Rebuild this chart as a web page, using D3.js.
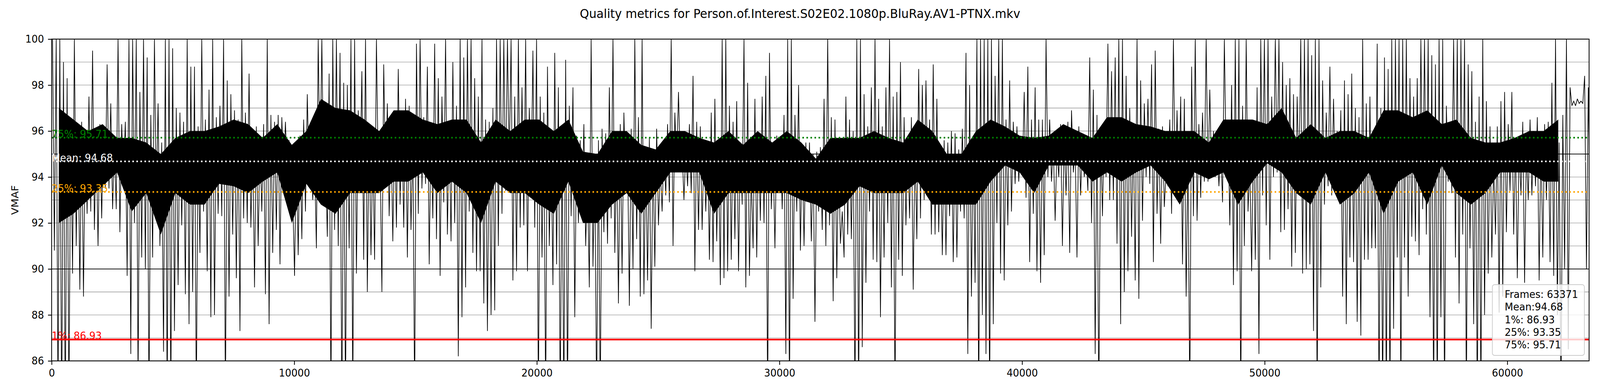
<!DOCTYPE html>
<html><head><meta charset="utf-8">
<script src="https://cdn.jsdelivr.net/npm/d3@7/dist/d3.min.js"></script>
<style>html,body{margin:0;padding:0;background:#fff;width:100%;height:100%;overflow:hidden;} svg{display:block;width:100vw;height:100vh;font-family:"DejaVu Sans",sans-serif;}</style>
</head><body><svg id="chart" viewBox="0 0 4400 1000" preserveAspectRatio="none"></svg>
<script>
// ---------------- data ----------------
const titleText = "Quality metrics for Person.of.Interest.S02E02.1080p.BluRay.AV1-PTNX.mkv";
const yLabelText = "VMAF";
const frameCount = 63371;
const binSize = 150;      // frames per bin of the high / low trace readings
const coreBinSize = 600;  // frames per bin of the dense band readings
const xTicks = [0, 10000, 20000, 30000, 40000, 50000, 60000];
const yTicks = [86, 88, 90, 92, 94, 96, 98, 100];
const yGridValues = [86, 87, 88, 89, 90, 91, 92, 93, 94, 95, 96, 97, 98, 99, 100];
const refLineValues = [90, 95];
const statNames = ["75%", "Mean", "25%", "1%"];
const statValues = [95.71, 94.68, 93.35, 86.93];

// per-bin high values of VMAF
const vmafHigh = [
 100,100,100,99,98.3,96.5,100,96.3,96.4,96, 97.5,99.5,95.7,96.3,96.2,98.9,97.2,95.4,100,96.3,
 96.4,100,100,100,97.7,100,99.2,96.7,100,97.2, 95.5,100,100,99.6,97,96.8,96.4,100,98.8,98.8,
 96.2,100,96.5,97.8,100,96.6,97.1,100,98.2,97.6, 96.9,96.5,100,96.8,98.5,95.6,96.2,95.6,96.3,100,
 96.7,96.4,96.7,96.6,96.4,95.6,93.2,95.3,95.8,96.5, 97.6,95.4,94.8,100,100,95,98.5,100,100,99.4,
 98.1,98,100,100,96.9,98.6,100,96.3,95.3,100, 95,98.9,97.2,96.2,96.2,98.7,96.5,97.4,97.1,95.8,
 99.8,100,96.6,98.8,96.1,99.8,98.3,97.5,100,96.2, 99,97.1,100,99.2,100,100,98.3,97.5,100,96.5,96.4,
 97,100,100,100,100,100,97.5,100,97.9,100, 97,99.5,100,97.5,96.8,98.8,95.5,99.4,97.9,95.4,
 99.1,97.1,97.9,95.8,95.6,96.3,94,100,94.8,95.6, 96.1,95.9,97.9,100,95.4,96.3,96.8,95.3,96.1,100,
 96.6,100,95.1,95.7,95.2,96.1,94.5,95.3,96.3,100, 96.8,97.7,95.2,95.1,96.3,98.4,96.4,96.2,95.4,95.3,
 96.8,97.4,95,100,100,97.1,96.4,97.3,95.4,100, 98.1,94.2,97.4,95.6,97.5,98.4,99.4,95.1,95.8,95.7,
 96.7,100,100,96.7,98,95.4,95.5,95.5,95,95.1, 95.3,97.4,100,96.6,96.5,95,92.5,97.5,96.5,96,
 100,100,97.6,96.2,97.9,100,97.4,96.2,97.9,100, 97.5,97.7,99,96.6,95.6,96.6,95.4,98.7,98,98.2,96.5,
 98.9,97.4,95.2,95.6,95.5,96,95.9,95.2,96.1,99.4, 98,95.8,100,100,100,100,100,98.4,100,100,
 96.5,98.2,96.4,96.2,95.5,97.7,98.8,96.5,97.9,96.5, 96.5,100,96.5,95.4,95.3,96.3,95.9,96.4,96.9,95.3,
 96.2,95.5,95,99.2,97.8,96.7,96,96.4,99.8,98.6, 99.2,100,100,98.4,97,96.2,100,98.2,97.2,97.4,
 98.9,99.5,96.1,96.2,94.2,96.5,100,96.9,97.5,97.4, 95.3,98.8,100,96.3,96.8,100,97.8,96,95.7,95.3,
 100,96.3,98,100,100,97.1,100,94.5,96.3,97.9, 100,100,100,97.5,100,100,99,98,98.3,97.6,
 97.5,100,100,100,99.3,100,100,98.2,96.8,98.8, 97.4,96,96.9,98.2,97.6,98.5,97,96.6,100,97.2,97.5,
 95.6,99.8,97,99.2,98.7,100,100,100,100,100, 98.3,97.5,98.3,100,100,100,99.3,98.9,100,100,
 97.1,96.3,100,100,100,100,98.9,98.6,96.4,97.5, 100,97.3,96.2,94.6,96.2,97.3,97.7,96.3,97.7,95.7,
 95.6,96.4,95.3,96.5,96,96.6,95.9,96.3,96.4,98.1, 100,95.5,96.7,100,97.9,97.3,97.4,97.3,98.4,97.9
];
// per-bin low values of VMAF (values under 86 run off the bottom of the plot)
const vmafLow = [
 90.8,84,83,83,84,89.8,91,89.1,88.8,92.4, 92.5,91.7,91,92.2,93.5,93.5,92.6,92.6,91.6,94,
 89.7,86.3,92,85,90.5,90,84,90.5,93,91, 86.4,84,84,87.3,89.3,91.9,88.9,87.6,89,84,
 90.7,92.5,89.9,87.9,88,92.4,92.3,84,88.8,91.5, 89.6,87.3,92.2,92,91.8,89.2,91,92.5,88.9,87.6,
 90.7,91.7,90.2,94.2,94,92.5,89.7,90.6,91.3,92.5, 94,93,90.9,94,93.5,91.4,84,91.7,91,83,
 84,90.9,84,89.8,93.9,90.4,89,90.6,90.4,94, 89,93.9,92.3,91.2,91.8,92.8,91.8,90.5,91.7,84,
 92.4,93.5,93.7,90.2,92.2,91.3,89.7,92.9,91.5,91.2, 92,86.2,87.9,89.2,92.5,90.7,89.9,89.9,88.5,87.3,88,
 88.2,91,92.4,93.4,94.5,89.5,89.9,91.8,91.9,89.9, 93.3,91.8,84,90.5,84,91,89.3,90.2,84,84,
 84,92.3,87.9,92,92.3,91,89.2,90.1,84,84, 91.6,91.1,92.2,90.7,88.5,89.8,93.4,88.4,90,91.3,
 88.8,88.9,89.5,87.4,90.1,91.9,92.5,93.2,92.9,91, 94.5,94.6,93,93.6,93.3,89.9,91.7,91.7,92.5,90.4,
 90.3,91.2,89.3,89.6,89.9,90.4,91.3,89.9,92.8,89.2, 89.7,90.9,90.5,92.1,92,84,92.6,90.9,93.4,92.6,
 86.3,84,88.7,92.5,90.8,91,93,91.2,87.7,92.5, 91.7,91,91.9,88.6,89.6,91.1,90.5,91.5,91.3,84,
 84,86.6,89.4,92.5,90.4,90.3,87.9,90.5,92,89.2, 84,90.4,89.7,91.9,92.2,89.1,91.3,92.2,93,93.8,91.5,
 91.5,91.6,90.6,90.6,92.3,90.3,90.5,92.5,92.2,86.3, 88.8,89.4,84,88,86.3,84,87.6,92,89.8,89.5,
 91.9,92.5,93.7,93.8,94.2,93.1,90.3,92.4,89.9,89.4, 90.6,94,93.8,92.1,94,91,93.2,90.7,94.2,90.5,
 93.2,94,93.4,92,86.3,84,92.3,94,93,93, 91.1,87.6,89,89.9,91.4,89.5,88.7,92.1,94,93.7,
 90.3,92.4,91.1,92.7,93.6,92.4,93.2,93.1,90.2,88.8, 84,92.3,92.1,93.1,93.8,93.8,94,94,93.6,92.9,
 94.5,91.9,89.3,89.9,84,91,92.5,89.9,90.4,86.3, 93.2,91.9,90.4,94,94.2,91.6,91.7,92.6,90.1,90.7,
 93.9,89.8,90,90.2,87.3,84,89.2,92.8,93.6,93.2, 93.7,93,88.8,87.6,90.5,90.3,87.7,87.1,90.4,90.4,90.9,
 90.9,84,84,84,84,87.4,90.5,84,90.5,88.8, 91.4,91.2,90.6,92.6,91.5,87.9,84,84,87.9,84,
 93.8,93.3,90.5,88.5,91.5,84,90.9,87.6,84,84, 88,89.8,90.5,91.5,88.1,88.8,91.6,93.4,91.5,89.6,
 93.2,89.4,93,93.2,93.6,89.5,90.5,93,90.3,89.7, 88,84,90,86.5,97.1,97.1,97.2,97.2,90,95.4
];
// dense (solid black) band of the trace, upper edge, per 600-frame bin (null: no dense band)
const coreHigh = [
 97,96.5,96,96.3,95.7,95.7,95.5,95,95.7,96, 96,96.2,96.5,96.3,95.7,
 96.3,95.4,96,97.4,97,96.9,96.5,96,96.9,96.9, 96.5,96.3,96.5,96.5,95.5,
 96.5,96,96.5,96.5,96,96.5,95.1,95,96,96, 95.4,95.2,96,96,95.7,
 95.5,96,95.4,96,95.5,96,95.5,94.8,95.7,95.7, 95.7,96,95.7,95.5,96.5,
 96,95,95,96,96.5,96.2,95.8,95.7,95.8,96.3, 96,95.7,96.6,96.6,96.3,
 96.2,96,96,96,95.5,96.5,96.5,96.5,96.3,97, 95.7,96.3,95.7,96,96,
 95.7,96.9,96.9,96.6,96.9,96.3,96.5,95.7,95.5,95.5, 95.7,96,96,96.5,null,null
];
// dense band of the trace, lower edge, per 600-frame bin
const coreLow = [
 92,92.4,93,93.6,94.2,92.5,93.3,91.5,93.3,92.8, 92.8,93.7,93.6,93.3,93.8,
 94.2,92,93.7,92.8,92.4,93.3,93.3,93.3,93.8,93.8, 94.2,93.3,93.8,93.3,92,
 93.8,93.3,93.3,92.8,92.4,93.8,92,92,92.8,93.3, 92.4,93.3,94.2,94.2,94.2,
 92.4,93.3,93.3,93.3,93.3,93.3,93,92.8,92.4,92.8, 93.6,93.3,93.3,93.3,93.8,
 92.8,92.8,92.8,92.8,93.8,94.5,94.2,93.3,94.5,94.5, 94.5,93.8,94.2,93.8,94.2,
 94.5,93.8,92.8,94.2,93.9,94.2,92.8,93.8,94.6,94.2, 93.3,92.8,94.2,92.8,93.3,
 94.2,92.4,93.8,94.2,92.8,94.5,93.3,92.8,93.3,94.2, 94.2,94.2,93.8,93.8,null,null
];

// ---------------- styles / layout ----------------
const W = 4400, H = 1000;
const M = {left: 142, right: 4370, top: 100, bottom: 923};
const FONT = "'DejaVu Sans', sans-serif";
const statStyle = {
  "75%":  {color: "#008000", dash: "4.2 6.9"},
  "Mean": {color: "#ffffff", dash: "4.2 6.9"},
  "25%":  {color: "#ffa500", dash: "4.2 6.9"},
  "1%":   {color: "#ff0000", dash: null}
};

const svg = d3.select("#chart");
svg.append("rect").attr("width", W).attr("height", H).attr("fill", "#fff");

const x = d3.scaleLinear().domain([0, frameCount]).range([M.left, M.right]);
const y = d3.scaleLinear().domain([86, 100]).range([M.bottom, M.top]);

svg.append("defs").append("clipPath").attr("id", "plotClip")
  .append("rect").attr("x", M.left).attr("y", M.top)
  .attr("width", M.right - M.left).attr("height", M.bottom - M.top);

// grid
svg.append("g").selectAll("line").data(yGridValues).join("line")
  .attr("x1", M.left).attr("x2", M.right)
  .attr("y1", d => y(d)).attr("y2", d => y(d))
  .attr("stroke", "#808080").attr("stroke-width", 1.1);

// reference lines at 90 / 95
svg.append("g").selectAll("line").data(refLineValues).join("line")
  .attr("x1", M.left).attr("x2", M.right)
  .attr("y1", d => y(d)).attr("y2", d => y(d))
  .attr("stroke", "#000").attr("stroke-width", 1.8);

const plot = svg.append("g").attr("clip-path", "url(#plotClip)");

// dense band of the trace
const coreN = Math.min(coreHigh.length, coreLow.length);
const corePts = d3.range(coreN).map(k => ({
  f: Math.min(k * coreBinSize + coreBinSize / 2, frameCount), hi: coreHigh[k], lo: coreLow[k]
}));
plot.append("path").datum(corePts)
  .attr("d", d3.area().defined(d => d.hi != null && d.lo != null)
    .x(d => x(d.f)).y0(d => y(d.lo)).y1(d => y(d.hi)))
  .attr("fill", "#000");

// data trace (high/low per bin)
const pts = [];
const nBins = Math.min(vmafHigh.length, vmafLow.length);
for (let k = 0; k < nBins; k++) {
  pts.push([Math.min(k * binSize + binSize * 0.25, frameCount), vmafHigh[k]]);
  pts.push([Math.min(k * binSize + binSize * 0.75, frameCount), vmafLow[k]]);
}
const line = d3.line().x(d => x(d[0])).y(d => y(d[1]));
plot.append("path").datum(pts)
  .attr("d", line).attr("fill", "none")
  .attr("stroke", "#000").attr("stroke-width", 1.8)
  .attr("stroke-linejoin", "miter").attr("stroke-miterlimit", 3);

// stat lines
const statG = svg.append("g");
statNames.forEach((name, i) => {
  const v = statValues[i], st = statStyle[name];
  const l = statG.append("line")
    .attr("x1", M.left).attr("x2", M.right)
    .attr("y1", y(v)).attr("y2", y(v))
    .attr("stroke", st.color).attr("stroke-width", 4.2);
  if (st.dash) l.attr("stroke-dasharray", st.dash);
});
statNames.forEach((name, i) => {
  const v = statValues[i], st = statStyle[name];
  statG.append("text")
    .attr("x", x(0)).attr("y", y(v))
    .attr("font-family", FONT).attr("font-size", 27)
    .attr("fill", st.color)
    .text(name + ": " + v.toFixed(2));
});

// spines
svg.append("rect").attr("x", M.left).attr("y", M.top)
  .attr("width", M.right - M.left).attr("height", M.bottom - M.top)
  .attr("fill", "none").attr("stroke", "#000").attr("stroke-width", 2.2);

// axes
const xAxis = svg.append("g").attr("transform", `translate(0,${M.bottom})`)
  .call(d3.axisBottom(x).tickValues(xTicks).tickSize(10).tickPadding(11).tickFormat(d3.format("d")));
const yAxis = svg.append("g").attr("transform", `translate(${M.left},0)`)
  .call(d3.axisLeft(y).tickValues(yTicks).tickSize(10).tickPadding(11).tickFormat(d3.format("d")));
[xAxis, yAxis].forEach(g => {
  g.select(".domain").remove();
  g.attr("font-family", FONT).attr("font-size", 27);
  g.selectAll(".tick line").attr("stroke", "#000").attr("stroke-width", 2.2);
  g.selectAll(".tick text").attr("fill", "#000");
});

// y label
svg.append("text")
  .attr("transform", `translate(51,${(M.top + M.bottom) / 2}) rotate(-90)`)
  .attr("text-anchor", "middle").attr("font-family", FONT).attr("font-size", 27)
  .text(yLabelText);

// title
svg.append("text").attr("x", W / 2).attr("y", 46)
  .attr("text-anchor", "middle").attr("font-family", FONT).attr("font-size", 32.4)
  .text(titleText);

// legend box
const legendLines = [
  "Frames: " + frameCount,
  "Mean:" + statValues[statNames.indexOf("Mean")].toFixed(2),
  "1%: " + statValues[statNames.indexOf("1%")].toFixed(2),
  "25%: " + statValues[statNames.indexOf("25%")].toFixed(2),
  "75%: " + statValues[statNames.indexOf("75%")].toFixed(2)
];
const lg = svg.append("g");
lg.append("rect").attr("x", 4104).attr("y", 728).attr("width", 253).attr("height", 181)
  .attr("rx", 6).attr("fill", "#fff").attr("fill-opacity", 0.8)
  .attr("stroke", "#cccccc").attr("stroke-width", 2);
lg.selectAll("text").data(legendLines).join("text")
  .attr("x", 4138).attr("y", (d, i) => 762 + i * 32.3)
  .attr("font-family", FONT).attr("font-size", 27).attr("fill", "#000")
  .text(d => d);
</script></body></html>
